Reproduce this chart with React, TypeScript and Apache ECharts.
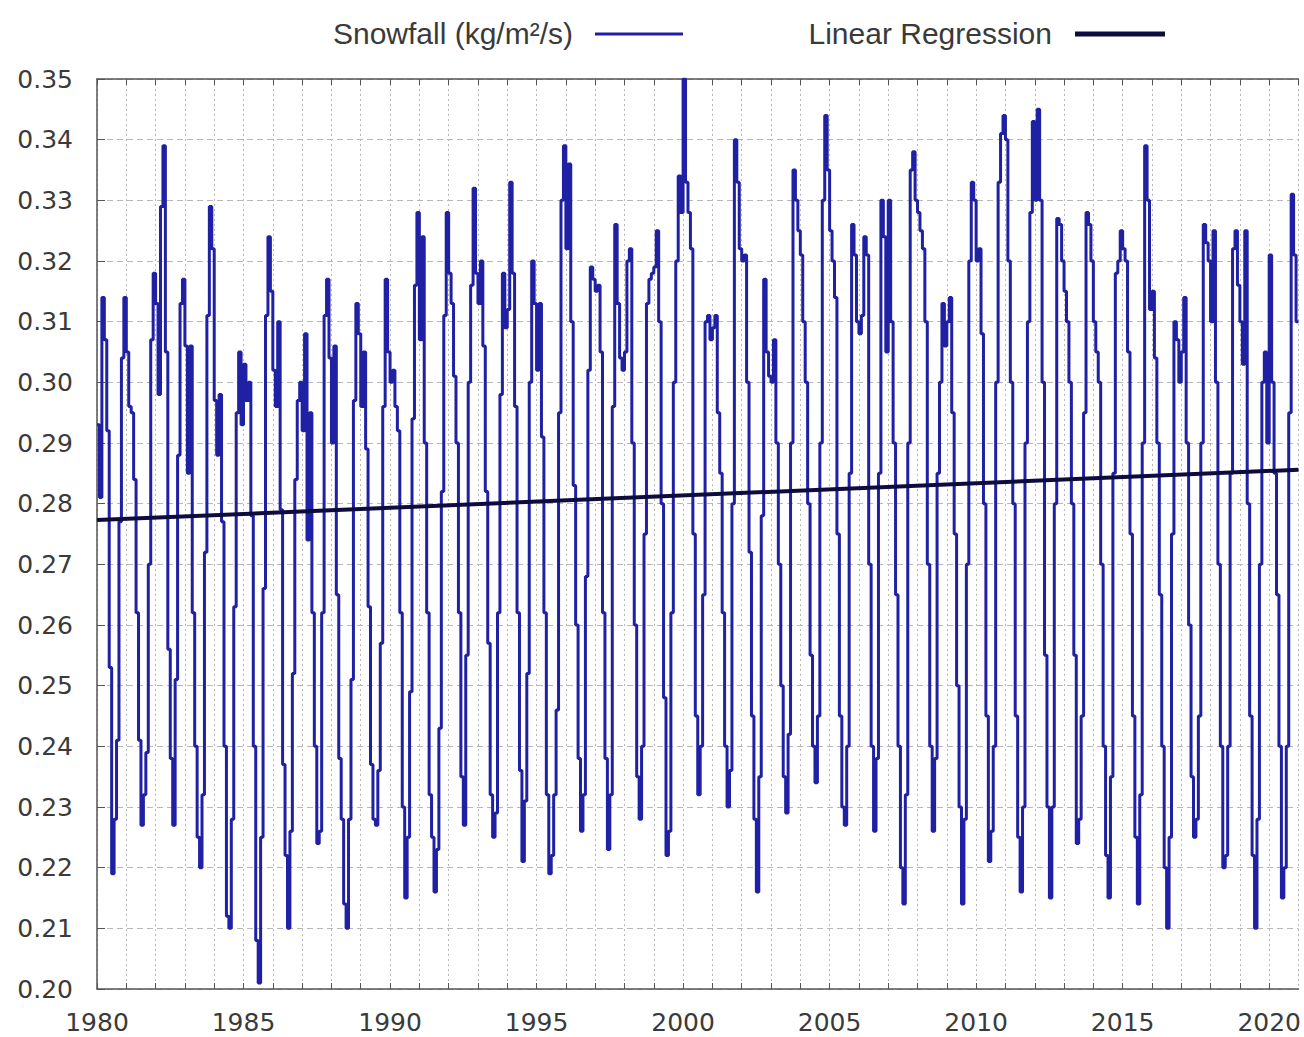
import React, { useEffect, useRef } from "react";
import * as echarts from "echarts";

// Monthly snowfall (kg/m²/s), one row per year, Jan..Dec
const years: number[] = [
  1980, 1981, 1982, 1983, 1984, 1985, 1986, 1987, 1988, 1989,
  1990, 1991, 1992, 1993, 1994, 1995, 1996, 1997, 1998, 1999,
  2000, 2001, 2002, 2003, 2004, 2005, 2006, 2007, 2008, 2009,
  2010, 2011, 2012, 2013, 2014, 2015, 2016, 2017, 2018, 2019, 2020,
];

const monthlySnowfall: number[][] = [
  [0.293, 0.281, 0.314, 0.307, 0.292, 0.253, 0.219, 0.228, 0.241, 0.277, 0.304, 0.314], // 1980
  [0.305, 0.296, 0.295, 0.284, 0.262, 0.241, 0.227, 0.232, 0.239, 0.270, 0.307, 0.318], // 1981
  [0.313, 0.298, 0.329, 0.339, 0.305, 0.256, 0.238, 0.227, 0.251, 0.288, 0.313, 0.317], // 1982
  [0.306, 0.285, 0.306, 0.262, 0.240, 0.225, 0.220, 0.232, 0.272, 0.311, 0.329, 0.322], // 1983
  [0.297, 0.288, 0.298, 0.277, 0.240, 0.212, 0.210, 0.228, 0.263, 0.295, 0.305, 0.293], // 1984
  [0.303, 0.297, 0.300, 0.278, 0.240, 0.208, 0.201, 0.225, 0.266, 0.311, 0.324, 0.315], // 1985
  [0.302, 0.296, 0.310, 0.279, 0.237, 0.222, 0.210, 0.226, 0.252, 0.284, 0.297, 0.300], // 1986
  [0.292, 0.308, 0.274, 0.295, 0.262, 0.240, 0.224, 0.226, 0.262, 0.311, 0.317, 0.304], // 1987
  [0.290, 0.306, 0.265, 0.238, 0.228, 0.214, 0.210, 0.228, 0.251, 0.297, 0.313, 0.308], // 1988
  [0.296, 0.305, 0.289, 0.263, 0.237, 0.228, 0.227, 0.236, 0.257, 0.296, 0.317, 0.305], // 1989
  [0.300, 0.302, 0.296, 0.292, 0.262, 0.230, 0.215, 0.225, 0.249, 0.294, 0.316, 0.328], // 1990
  [0.307, 0.324, 0.290, 0.262, 0.232, 0.225, 0.216, 0.223, 0.243, 0.282, 0.311, 0.328], // 1991
  [0.318, 0.313, 0.301, 0.290, 0.262, 0.235, 0.227, 0.255, 0.300, 0.316, 0.332, 0.318], // 1992
  [0.313, 0.320, 0.306, 0.282, 0.257, 0.232, 0.225, 0.229, 0.262, 0.298, 0.318, 0.309], // 1993
  [0.312, 0.333, 0.318, 0.296, 0.262, 0.236, 0.221, 0.231, 0.252, 0.300, 0.320, 0.313], // 1994
  [0.302, 0.313, 0.291, 0.262, 0.232, 0.219, 0.222, 0.232, 0.246, 0.295, 0.330, 0.339], // 1995
  [0.322, 0.336, 0.310, 0.283, 0.260, 0.238, 0.226, 0.232, 0.268, 0.302, 0.319, 0.317], // 1996
  [0.315, 0.316, 0.305, 0.262, 0.238, 0.223, 0.232, 0.296, 0.326, 0.313, 0.304, 0.302], // 1997
  [0.305, 0.320, 0.322, 0.290, 0.260, 0.235, 0.228, 0.240, 0.275, 0.313, 0.317, 0.318], // 1998
  [0.319, 0.325, 0.310, 0.280, 0.248, 0.222, 0.226, 0.262, 0.300, 0.320, 0.334, 0.328], // 1999
  [0.350, 0.333, 0.328, 0.322, 0.275, 0.245, 0.232, 0.240, 0.265, 0.310, 0.311, 0.307], // 2000
  [0.309, 0.311, 0.295, 0.285, 0.262, 0.240, 0.230, 0.236, 0.280, 0.340, 0.333, 0.322], // 2001
  [0.320, 0.321, 0.300, 0.272, 0.245, 0.228, 0.216, 0.235, 0.278, 0.317, 0.305, 0.301], // 2002
  [0.300, 0.307, 0.290, 0.270, 0.250, 0.235, 0.229, 0.242, 0.290, 0.335, 0.330, 0.325], // 2003
  [0.321, 0.310, 0.300, 0.280, 0.255, 0.240, 0.234, 0.245, 0.290, 0.330, 0.344, 0.335], // 2004
  [0.325, 0.320, 0.314, 0.275, 0.245, 0.230, 0.227, 0.240, 0.285, 0.326, 0.321, 0.310], // 2005
  [0.308, 0.311, 0.324, 0.321, 0.270, 0.240, 0.226, 0.238, 0.285, 0.330, 0.324, 0.305], // 2006
  [0.330, 0.310, 0.290, 0.265, 0.240, 0.220, 0.214, 0.232, 0.290, 0.335, 0.338, 0.330], // 2007
  [0.328, 0.325, 0.322, 0.310, 0.270, 0.240, 0.226, 0.238, 0.285, 0.300, 0.313, 0.306], // 2008
  [0.310, 0.314, 0.295, 0.275, 0.250, 0.230, 0.214, 0.228, 0.270, 0.320, 0.333, 0.330], // 2009
  [0.320, 0.322, 0.308, 0.280, 0.245, 0.221, 0.226, 0.240, 0.300, 0.333, 0.341, 0.344], // 2010
  [0.340, 0.320, 0.300, 0.280, 0.245, 0.225, 0.216, 0.230, 0.290, 0.310, 0.328, 0.343], // 2011
  [0.330, 0.345, 0.330, 0.300, 0.255, 0.230, 0.215, 0.230, 0.280, 0.327, 0.326, 0.320], // 2012
  [0.315, 0.310, 0.300, 0.280, 0.255, 0.224, 0.228, 0.245, 0.295, 0.328, 0.326, 0.320], // 2013
  [0.310, 0.305, 0.300, 0.270, 0.240, 0.222, 0.215, 0.235, 0.285, 0.318, 0.320, 0.325], // 2014
  [0.322, 0.320, 0.305, 0.275, 0.245, 0.225, 0.214, 0.232, 0.290, 0.339, 0.330, 0.312], // 2015
  [0.315, 0.304, 0.290, 0.265, 0.240, 0.220, 0.210, 0.225, 0.275, 0.310, 0.307, 0.300], // 2016
  [0.305, 0.314, 0.290, 0.260, 0.235, 0.225, 0.228, 0.245, 0.290, 0.326, 0.323, 0.320], // 2017
  [0.310, 0.325, 0.300, 0.270, 0.240, 0.220, 0.222, 0.240, 0.285, 0.322, 0.325, 0.316], // 2018
  [0.310, 0.303, 0.325, 0.280, 0.245, 0.222, 0.210, 0.228, 0.270, 0.300, 0.305, 0.290], // 2019
  [0.321, 0.300, 0.285, 0.265, 0.240, 0.215, 0.220, 0.240, 0.295, 0.331, 0.321, 0.310], // 2020
];

// Linear regression end points: [x, y]
const regressionStart: [number, number] = [1980, 0.2773];
const regressionEnd: [number, number] = [2021, 0.2856];

const yTickMin = 0.2;
const yTickMax = 0.35;
const xTickMin = 1980;
const xTickMax = 2021;

const snowName = "Snowfall (kg/m²/s)";
const regName = "Linear Regression";

const SNOW_COLOR = "#2020a4";
const REG_COLOR = "#0c0c3e";
const TEXT_COLOR = "#3a3a3a";
const TICK_FONT = "'DejaVu Sans', Verdana, sans-serif";
const LEGEND_FONT = "'Liberation Sans', Arial, sans-serif";

export default function App() {
  const ref = useRef<HTMLDivElement | null>(null);

  useEffect(() => {
    if (!ref.current) return;
    const chart = echarts.init(ref.current, undefined, { renderer: "svg" });

    const snowData: [number, number][] = [];
    monthlySnowfall.forEach((row, yi) => {
      row.forEach((v, m) => {
        snowData.push([years[yi] + m / 12, v]);
      });
    });
    const lastRow = monthlySnowfall[monthlySnowfall.length - 1];
    snowData.push([years[years.length - 1] + 1, lastRow[lastRow.length - 1]]);

    const regData: [number, number][] = [regressionStart, regressionEnd];

    const legendY = 33;

    chart.setOption({
      animation: false,
      backgroundColor: "#ffffff",
      grid: {
        left: 97,
        right: -2,
        top: 79,
        bottom: 48,
        show: false,
      },
      xAxis: [
        {
          type: "value",
          min: xTickMin,
          max: xTickMax,
          interval: 1,
          axisLine: { show: true, onZero: false, lineStyle: { color: "#555", width: 1.5 } },
          axisTick: { show: true, inside: true, length: 6, lineStyle: { color: "#555" } },
          axisLabel: {
            color: TEXT_COLOR,
            fontSize: 25,
            fontFamily: TICK_FONT,
            margin: 21,
            showMaxLabel: false,
            formatter: (v: number) => (Math.round(v) % 5 === 0 ? String(Math.round(v)) : ""),
          },
          splitLine: { show: true, lineStyle: { color: "#b8b8b8", type: [2, 3], width: 1 } },
        },
        {
          type: "value",
          position: "top",
          min: xTickMin,
          max: xTickMax,
          interval: 1,
          axisLine: { show: true, onZero: false, lineStyle: { color: "#555", width: 1.5 } },
          axisTick: { show: true, inside: true, length: 6, lineStyle: { color: "#555" } },
          axisLabel: { show: false },
          splitLine: { show: false },
        },
      ],
      yAxis: [
        {
          type: "value",
          min: yTickMin,
          max: yTickMax,
          interval: 0.01,
          axisLine: { show: true, onZero: false, lineStyle: { color: "#555", width: 1.5 } },
          axisTick: { show: true, inside: true, length: 8, lineStyle: { color: "#555" } },
          axisLabel: {
            color: TEXT_COLOR,
            fontSize: 25,
            fontFamily: TICK_FONT,
            margin: 24,
            formatter: (v: number) => v.toFixed(2),
          },
          splitLine: { show: true, lineStyle: { color: "#b8b8b8", type: [6, 4], width: 1 } },
        },
      ],
      series: [
        {
          name: snowName,
          type: "line",
          step: "end",
          data: snowData,
          showSymbol: false,
          symbol: "none",
          lineStyle: { color: SNOW_COLOR, width: 3 },
          z: 3,
        },
        {
          name: regName,
          type: "line",
          data: regData,
          showSymbol: false,
          symbol: "none",
          lineStyle: { color: REG_COLOR, width: 4 },
          z: 4,
        },
      ],
      graphic: [
        {
          type: "text",
          x: 573,
          y: legendY,
          style: {
            text: snowName,
            fill: TEXT_COLOR,
            fontSize: 30,
            fontFamily: LEGEND_FONT,
            align: "right",
            verticalAlign: "middle",
          },
        },
        {
          type: "line",
          shape: { x1: 595, y1: legendY + 1, x2: 683, y2: legendY + 1 },
          style: { stroke: SNOW_COLOR, lineWidth: 3 },
        },
        {
          type: "text",
          x: 1052,
          y: legendY,
          style: {
            text: regName,
            fill: TEXT_COLOR,
            fontSize: 30,
            fontFamily: LEGEND_FONT,
            align: "right",
            verticalAlign: "middle",
          },
        },
        {
          type: "line",
          shape: { x1: 1075, y1: legendY + 1, x2: 1165, y2: legendY + 1 },
          style: { stroke: REG_COLOR, lineWidth: 5 },
        },
      ],
    });

    return () => {
      chart.dispose();
    };
  }, []);

  return (
    <div
      ref={ref}
      style={{ position: "absolute", left: 0, top: 0, width: 1304, height: 1037, background: "#fff" }}
    />
  );
}
